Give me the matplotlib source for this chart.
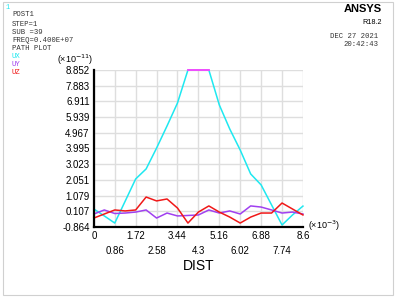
import matplotlib
matplotlib.use("Agg")
import matplotlib.pyplot as plt
import numpy as np
from matplotlib.patches import Rectangle

# path distance (x10^-3) and displacements (x10^-11)
dist = np.arange(21) * 0.43
ux = [0.25, -0.18, -0.62, 0.74, 2.11, 2.73, 4.02, 5.39, 6.81, 8.852, 8.852,
      8.852, 6.69, 5.20, 3.90, 2.42, 1.74, 0.50, -0.74, -0.12, 0.43]
uy = [-0.06, 0.19, -0.03, 0.00, 0.06, 0.19, -0.31, 0.00, -0.18, -0.15, -0.12,
      0.19, 0.00, 0.13, -0.06, 0.44, 0.37, 0.19, 0.00, 0.06, -0.06]
uz = [-0.31, -0.06, 0.19, 0.13, 0.19, 0.99, 0.75, 0.87, 0.31, -0.62, 0.06,
      0.44, 0.06, -0.25, -0.62, -0.25, 0.00, 0.00, 0.62, 0.25, -0.12]

xticks = [0, 0.86, 1.72, 2.58, 3.44, 4.3, 5.16, 6.02, 6.88, 7.74, 8.6]
yticks = [-0.864, 0.107, 1.079, 2.051, 3.023, 3.995, 4.967, 5.939, 6.911, 7.883, 8.852]

info = ["POST1", "STEP=1", "SUB =39", "FREQ=0.400E+07", "PATH PLOT"]
legend = [("UX", "#1ee8f0"), ("UY", "#a040f0"), ("UZ", "#f01818")]

plt.rcParams['font.family'] = ['Liberation Sans', 'DejaVu Sans']

fig = plt.figure(figsize=(3.96, 2.97), dpi=100)
fig.patches.append(Rectangle((0.008, 0.008), 0.984, 0.984, transform=fig.transFigure,
                             fill=False, edgecolor='#d0d0d0', lw=0.8))

ax = fig.add_axes([0.237, 0.2357, 0.528, 0.5286])
ax.plot(dist, ux, color=legend[0][1], lw=1.1, clip_on=False)
ax.plot(dist, uy, color=legend[1][1], lw=1.1, clip_on=False)
ax.plot(dist, uz, color=legend[2][1], lw=1.1, clip_on=False)

# part of UX at the top of the range is drawn in magenta
ux_arr = np.array(ux)
top = ux_arr >= yticks[-1]
ax.plot(dist[top], ux_arr[top], color='#ff40ff', lw=1.3, clip_on=False, zorder=3)

ax.set_xlim(0, 8.6)
ax.set_ylim(yticks[0], yticks[-1])
ax.set_xticks(xticks)
ax.set_yticks(yticks)
ax.set_xticklabels([])
ax.set_yticklabels([str(t) for t in yticks], fontsize=7)
ax.tick_params(length=0, pad=3)
ax.grid(color='#dedede', lw=1.0)
for s in ['top', 'right']:
    ax.spines[s].set_visible(False)
for s in ['left', 'bottom']:
    ax.spines[s].set_linewidth(1.6)

# staggered x tick labels
for i, t in enumerate(xticks):
    ax.annotate(str(t), (t, 0), xycoords=('data', 'axes fraction'),
                xytext=(0, -6.5 if i % 2 == 0 else -17), textcoords='offset points',
                ha='center', va='center', fontsize=7)

ax.text(0.5, -0.25, "DIST", transform=ax.transAxes, ha='center', va='center', fontsize=10)
ax.text(-0.09, 1.02, "(\u00d710$^{-11}$)", transform=ax.transAxes, ha='center',
        va='bottom', fontsize=6.5)
ax.text(1.025, 0.01, "(\u00d710$^{-3}$)", transform=ax.transAxes, ha='left',
        va='center', fontsize=6.5)

# ANSYS info block
mono = 'Liberation Mono'
fig.text(0.013, 0.985, "1", color=legend[0][1], fontsize=5, family=mono, va='top')
rows = [14, 25, 33, 41, 49]
for line, r in zip(info, rows):
    fig.text(0.03, 1 - r / 297, line, fontsize=5.2, family=mono,
             va='center', color='#333333')
for i, (name, c) in enumerate(legend):
    fig.text(0.03, 1 - (57 + 8 * i) / 297, name, fontsize=5.2, family=mono,
             va='center', color=c)

fig.text(0.965, 0.985, "ANSYS", fontsize=8, weight='bold', ha='right', va='top')
fig.text(0.965, 0.935, "R18.2", fontsize=5.2, ha='right', va='top')
fig.text(0.955, 0.89, "DEC 27 2021", fontsize=5.2, family=mono,
         ha='right', va='top', color='#333333')
fig.text(0.955, 0.862, "20:42:43", fontsize=5.2, family=mono,
         ha='right', va='top', color='#333333')

fig.savefig("out.png", dpi=100)
